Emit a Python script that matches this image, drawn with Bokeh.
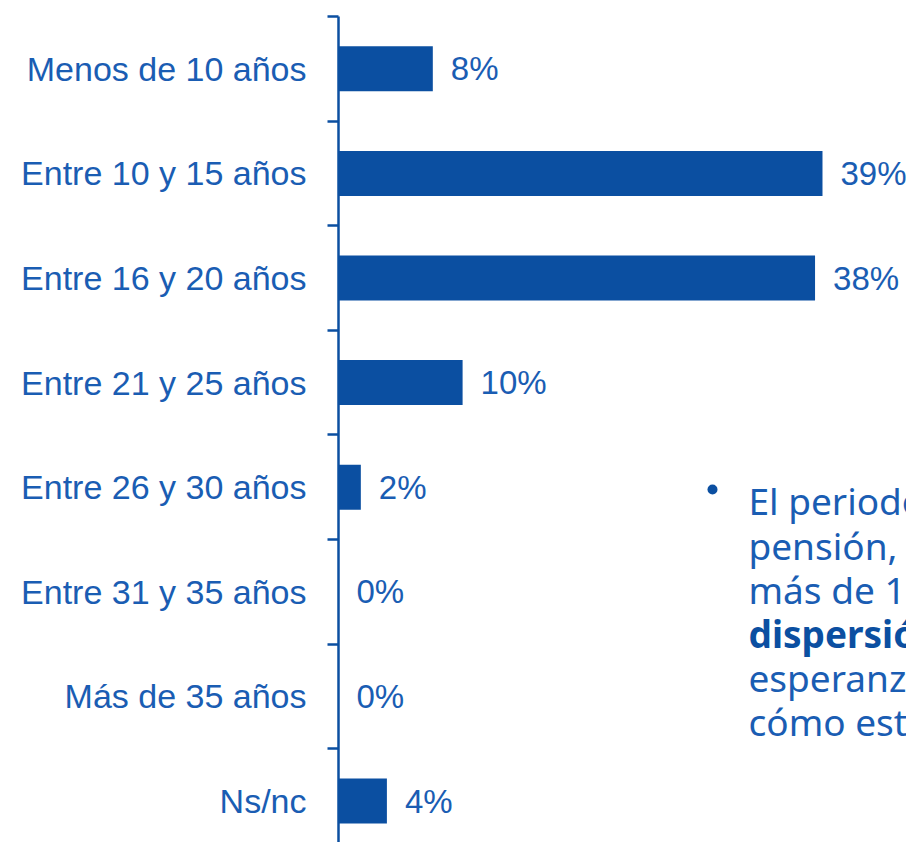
from bokeh.plotting import figure
from bokeh.models import Range1d, FixedTicker, ColumnDataSource
from bokeh.core.properties import value
from bokeh.embed import file_html
from bokeh.resources import INLINE

categories = ["Menos de 10 años", "Entre 10 y 15 años", "Entre 16 y 20 años",
              "Entre 21 y 25 años", "Entre 26 y 30 años", "Entre 31 y 35 años",
              "Más de 35 años", "Ns/nc"]
values = [7.6, 39.0, 38.4, 10.0, 1.8, 0.0, 0.0, 3.9]
labels = ["8%", "39%", "38%", "10%", "2%", "0%", "0%", "4%"]

note_lines = ["El periodo", "pensión, s", "más de 1", "dispersió", "esperanza", "cómo este"]
note_bold = [False, False, False, True, False, False]

BLUE = "#0b4fa1"
TEXT_BLUE = "#1a5db3"

PX_PER_UNIT = 12.41
BAND = 104.6
W, H = 906, 842
LEFT, TOP = 338, 16

pos = list(range(len(categories)))
frame_w = W - LEFT
frame_h = H - TOP

p = figure(width=W, height=H, output_backend="svg", toolbar_location=None,
           x_range=Range1d(0, frame_w / PX_PER_UNIT),
           y_range=Range1d(-0.5 + frame_h / BAND, -0.5),
           x_axis_location=None, min_border_left=LEFT, min_border_top=TOP,
           min_border_right=0, min_border_bottom=0)
p.outline_line_color = None
p.xgrid.grid_line_color = None
p.ygrid.grid_line_color = None
p.background_fill_color = "white"

src = ColumnDataSource(dict(y=pos, v=values, lab=labels, cat=categories))
p.hbar(y="y", right="v", left=0, height=0.43, source=src, fill_color=BLUE, line_color=None)
p.text(x="v", y="y", text="lab", source=src, x_offset=18, text_baseline="middle",
       text_align="left", text_color=TEXT_BLUE, text_font=value("Liberation Sans"),
       text_font_size="33px")

ax = p.yaxis[0]
ax.ticker = FixedTicker(ticks=pos, minor_ticks=[i - 0.5 for i in range(len(categories) + 1)])
ax.major_label_overrides = {i: c for i, c in zip(pos, categories)}
ax.major_tick_line_color = None
ax.major_tick_out = 0
ax.major_tick_in = 0
ax.minor_tick_out = 11
ax.minor_tick_in = 0
ax.minor_tick_line_color = BLUE
ax.minor_tick_line_width = 2.5
ax.axis_line_color = BLUE
ax.axis_line_width = 2.5
ax.major_label_standoff = 21
ax.major_label_text_font = "Liberation Sans"
ax.major_label_text_font_size = "34px"
ax.major_label_text_color = TEXT_BLUE

def dx(px):
    return (px - 338) / PX_PER_UNIT

def dy(py):
    return (py - 16) / BAND - 0.5

p.scatter(x=[dx(712)], y=[dy(489)], size=10, marker="circle", fill_color=BLUE, line_color=None)

base = [500, 545, 589, 633, 677, 721]
reg = dict(x=[], y=[], t=[])
bold = dict(x=[], y=[], t=[])
for line, b, by in zip(note_lines, note_bold, base):
    d = bold if b else reg
    d["x"].append(dx(748)); d["y"].append(dy(by)); d["t"].append(line)
p.text(x="x", y="y", text="t", source=ColumnDataSource(reg), text_baseline="alphabetic",
       text_color=TEXT_BLUE, text_font=value("Noto Sans"), text_font_size="37px")
p.text(x="x", y="y", text="t", source=ColumnDataSource(bold), text_baseline="alphabetic",
       text_color=BLUE, text_font=value("Noto Sans"), text_font_size="37px",
       text_font_style="bold")

open("out.html", "w").write(file_html(p, INLINE))
